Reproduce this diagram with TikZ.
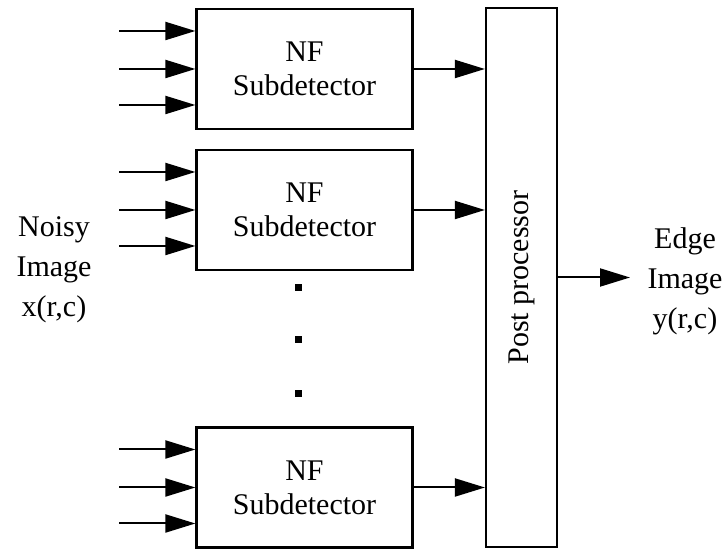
\documentclass[tikz,border=0pt]{standalone}
\usepackage{fontspec}
\setmainfont{Liberation Serif}
\usetikzlibrary{arrows.meta}

\begin{document}
\begin{tikzpicture}[x=0.5pt, y=-0.5pt,
  subbox/.style={draw, line width=1.1pt, minimum width=108pt, minimum height=60pt,
    inner sep=0pt, align=center, font=\fontsize{15}{17}\selectfont},
  postbox/.style={draw, line width=1.1pt, minimum width=35.5pt, minimum height=269.5pt,
    inner sep=0pt},
  lab/.style={align=center, font=\fontsize{15}{20}\selectfont},
  sig/.style={line width=1pt, -{Triangle[length=15pt, width=9pt]}},
  dotmark/.style={fill, minimum size=3.5pt, inner sep=0pt}]
\useasboundingbox (0,0) rectangle (725,550);
% ---------------- subdetectors ----------------
\node[subbox] (sub1) at (304.5,69) {NF\\Subdetector};
\node[subbox] (sub2) at (304.5,210) {NF\\Subdetector};
\node[subbox] (sub3) at (304.5,487.5) {NF\\Subdetector};
\node[dotmark] (dot1) at (298,288) {};
\node[dotmark] (dot2) at (298,340) {};
\node[dotmark] (dot3) at (298,394) {};
% ---------------- post processor ----------------
\node[postbox] (post) at (521.5,277.5) {};
\node[lab, rotate=90] (posttxt) at (post.center) {Post processor};
% ---------------- labels ----------------
\node[lab] (noisy) at (54,270) {Noisy\\Image\\x(r,c)};
\node[lab] (edge) at (685,281) {Edge\\Image\\y(r,c)};
% ---------------- connectors ----------------
\foreach \s in {sub1,sub2,sub3}
  \foreach \dy [count=\k] in {19,0,-18} {
    \coordinate (\s-in\k) at ([xshift=-38pt, yshift=\dy pt]\s.west);
    \draw[sig] (\s-in\k) -- (\s-in\k -| \s.west);
  }
\foreach \s in {sub1,sub2,sub3}
  \draw[sig] (\s.east) -- (\s.east -| post.west);
\coordinate (out) at (630,277.5);
\draw[sig] (post.east) -- (out);
\end{tikzpicture}
\end{document}
